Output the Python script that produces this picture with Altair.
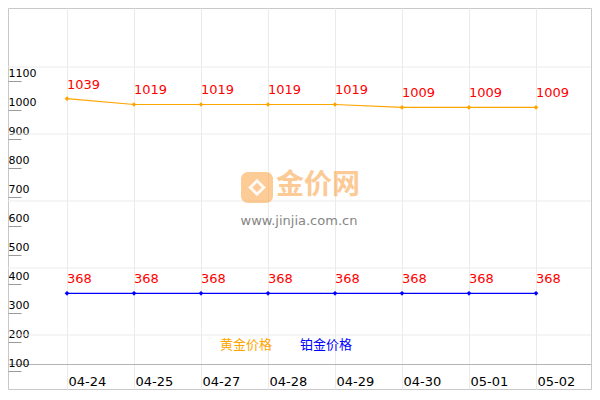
import json
import altair as alt
import pandas as pd

# ---- data ----
dates = ["04-24", "04-25", "04-27", "04-28", "04-29", "04-30", "05-01", "05-02"]
gold = [1039, 1019, 1019, 1019, 1019, 1009, 1009, 1009]
platinum = [368, 368, 368, 368, 368, 368, 368, 368]
series_names = ["黄金价格", "铂金价格"]
series_colors = ["#FFA500", "#0000FF"]
y_ticks = [100, 200, 300, 400, 500, 600, 700, 800, 900, 1000, 1100]
grid_rows = [1, 2, 3, 4, 5]
watermark = ["金价网"]
watermark_url = ["www.jinjia.com.cn"]

rows = []
for i, d in enumerate(dates):
    rows.append({"i": i, "date": d, "series": series_names[0], "value": gold[i]})
    rows.append({"i": i, "date": d, "series": series_names[1], "value": platinum[i]})
df = pd.DataFrame(rows)

W, H = 583, 381
FONT = "DejaVu Sans"
CJK = "Noto Sans CJK SC"

x_scale = alt.Scale(domain=[-59 / 67, (W - 59) / 67], nice=False, zero=False)
y_scale = alt.Scale(domain=[(392 - H) / 0.29, 392 / 0.29], nice=False, zero=False)
color_scale = alt.Scale(domain=series_names, range=series_colors)

x_axis = alt.Axis(
    values=list(range(len(dates))),
    labelExpr=json.dumps(dates) + "[datum.value]",
    orient="bottom", offset=-(H - 356),
    domainColor="#b4b4b4", ticks=False, tickSize=0,
    labelAlign="left", labelBaseline="alphabetic", labelPadding=21, labelOffset=1,
    labelFont=FONT, labelFontSize=13, labelFontWeight="normal", labelColor="#000000",
    labelFlush=False, labelOverlap=False,
    grid=True, gridColor="#ebebeb", title=None,
)
y_axis = alt.Axis(
    values=y_ticks, format="d", orient="left", offset=-13,
    domain=False, tickSize=13, tickColor="#9a9a9a",
    labelAlign="left", labelBaseline="alphabetic", labelPadding=0, labelOffset=-5,
    labelFont=FONT, labelFontSize=11, labelFontWeight="normal", labelColor="#000000",
    labelFlush=False, labelOverlap=False, grid=False, title=None,
)

base = alt.Chart(df).encode(
    x=alt.X("i:Q", scale=x_scale, axis=x_axis),
    y=alt.Y("value:Q", scale=y_scale, axis=y_axis),
    color=alt.Color("series:N", scale=color_scale, legend=None),
)

lines = base.mark_line(strokeWidth=1.2)
points = base.mark_point(filled=True, shape="diamond", size=22, opacity=1)
labels = base.mark_text(
    align="left", baseline="alphabetic", dy=-10, font=FONT, fontSize=13
).encode(text="value:Q", color=alt.value("#FF0000"))
data_layer = alt.layer(lines, points, labels)

grid = alt.Chart(pd.DataFrame({"g": grid_rows})).mark_rule(
    color="#ebebeb", strokeWidth=1
).encode(
    y=alt.Y("g:Q", scale=alt.Scale(domain=[(394 - H) / 67, 394 / 67], nice=False, zero=False), axis=None)
)

wm_df = pd.DataFrame({"t": watermark, "u": watermark_url})
logo = alt.Chart(wm_df).mark_rect(cornerRadius=7, color="#F9A03F", opacity=0.55).encode(
    x=alt.value(233), x2=alt.value(265), y=alt.value(164), y2=alt.value(195)
)
logo_glyph = alt.Chart(wm_df).mark_point(
    shape="diamond", filled=False, stroke="white", strokeWidth=3, size=180, opacity=0.9
).encode(x=alt.value(249), y=alt.value(179.5))
wm_text = alt.Chart(wm_df).mark_text(
    font=CJK, fontSize=28, fontWeight="bold", color="#F9A03F", opacity=0.55,
    align="left", baseline="middle"
).encode(text="t:N", x=alt.value(268), y=alt.value(178))
wm_url = alt.Chart(wm_df).mark_text(
    font=FONT, fontSize=13, color="#707070", opacity=0.85,
    align="left", baseline="middle"
).encode(text="u:N", x=alt.value(232.5), y=alt.value(213))

leg_df = pd.DataFrame({"name": series_names, "color": series_colors})
leg1 = alt.Chart(leg_df).transform_filter(alt.datum.name == series_names[0]).mark_text(
    font=CJK, fontSize=13, align="left", baseline="middle"
).encode(text="name:N", color=alt.Color("color:N", scale=None), x=alt.value(212), y=alt.value(337))
leg2 = alt.Chart(leg_df).transform_filter(alt.datum.name == series_names[1]).mark_text(
    font=CJK, fontSize=13, align="left", baseline="middle"
).encode(text="name:N", color=alt.Color("color:N", scale=None), x=alt.value(292), y=alt.value(337))

chart = alt.layer(
    grid, logo, logo_glyph, wm_text, wm_url, data_layer, leg1, leg2
).resolve_scale(y="independent", color="independent").properties(
    width=W, height=H,
    autosize=alt.AutoSizeParams(type="none"),
    padding={"left": 0, "top": 0, "right": 1, "bottom": 1},
).configure_view(stroke="#c8c8c8", strokeWidth=1)

chart.save("out.html", embed_options={"renderer": "svg", "actions": False})
